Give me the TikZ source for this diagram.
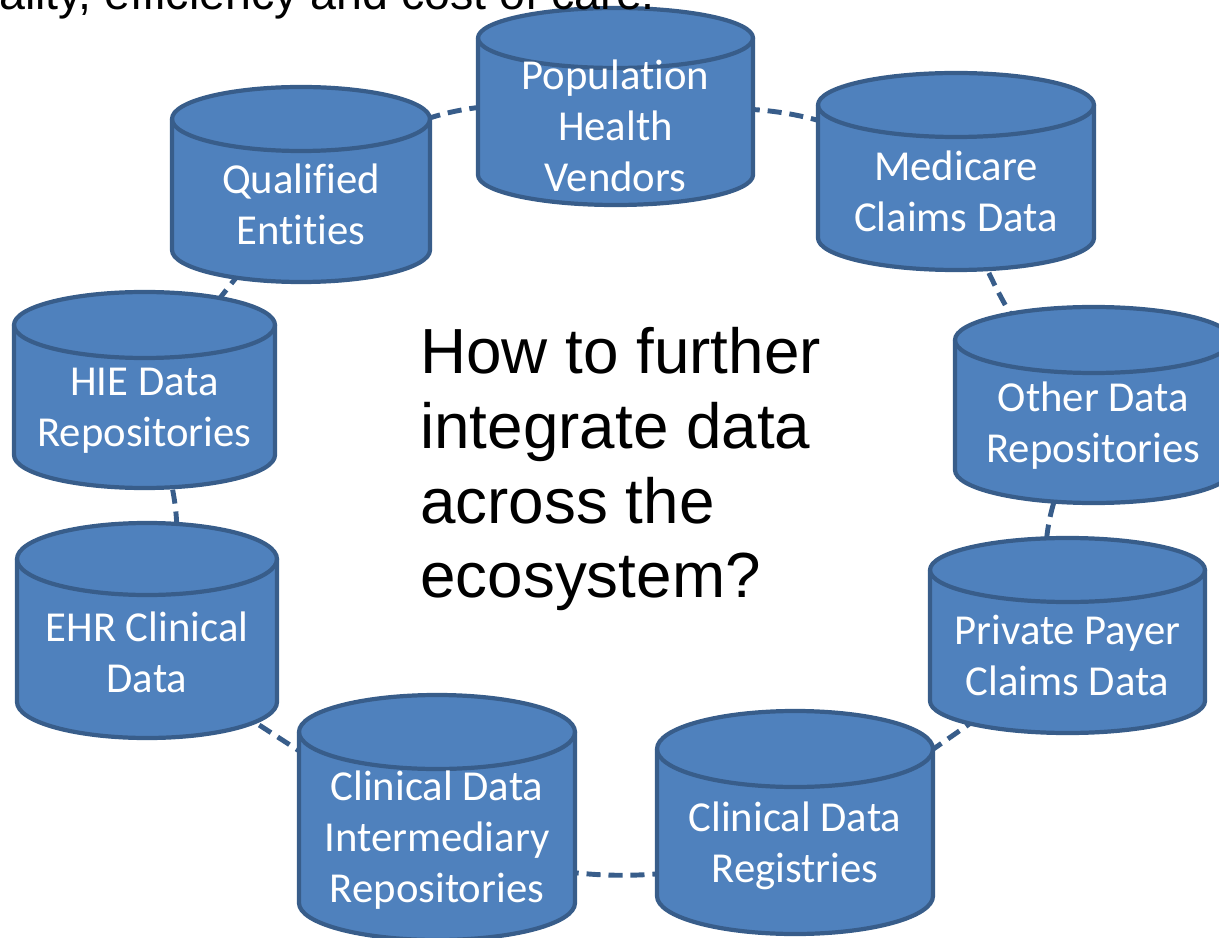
\documentclass[tikz,border=0pt]{standalone}
\usepackage{fontspec}
\usepackage{tikz}
\usetikzlibrary{backgrounds}
\newfontfamily\canfont[Ligatures = NoCommon]{Carlito}
\newfontfamily\askfont{Liberation Sans}
\definecolor{canblue}{HTML}{4F81BD}
\definecolor{canborder}{HTML}{385D8A}
\tikzset{
    can/.style = {fill = canblue, draw = canborder, line width = 2.4pt, line join = round},
    canedge/.style = {draw = canborder, line width = 2.4pt},
    cantext/.style = {text = white, align = center, inner sep = 0pt, font = \canfont\fontsize{24.3}{29}\selectfont},
    link/.style = {draw = canborder, line width = 2.8pt, dash pattern = on 8pt off 4.5pt}
}
% Cilindro: nome, centro x, semiasse x, y sopra, y sotto, semiasse y, testo
\newcommand{\datacan}[7]{
    \path[can] (#2-#3,#4) -- (#2-#3,#5) arc[start angle = 180, end angle = 360, x radius = #3, y radius = #6]
        -- (#2+#3,#4) arc[start angle = 0, end angle = 180, x radius = #3, y radius = #6] -- cycle;
    \draw[canedge] (#2-#3,#4) arc[start angle = 180, end angle = 360, x radius = #3, y radius = #6];
    \node[cantext] (#1) at (#2,{(#4-#6+#5)/2-4}) {#7};
}

\begin{document}
\begin{tikzpicture}[x = 0.02cm, y = 0.02cm]
    \useasboundingbox (0,0) rectangle (1219,937);

    % Cilindri
    \datacan{pop}{615.5}{137.5}{899}{762}{30}{Population\\Health\\Vendors}
    \datacan{med}{956}{138}{832}{699}{32}{Medicare\\Claims Data}
    \datacan{oth}{1093.5}{138.5}{597}{467}{33}{Other Data\\Repositories}
    \datacan{pri}{1067.5}{137.5}{367}{236}{32}{Private Payer\\Claims Data}
    \datacan{reg}{795}{138}{188}{41}{38}{Clinical Data\\Registries}
    \datacan{int}{437}{138}{205}{34}{37}{Clinical Data\\Intermediary\\Repositories}
    \datacan{ehr}{147}{130}{378}{235}{36}{EHR Clinical\\Data}
    \datacan{hie}{144.5}{130.5}{612}{482}{33}{HIE Data\\Repositories}
    \datacan{qe}{301}{129}{818}{687}{32}{Qualified\\Entities}

    % Collegamenti
    \begin{scope}[on background layer]
        \draw[link] (pop.center) to[bend left = 26] (med.center);
        \draw[link] (med.center) to[bend right = 11] (oth.center);
        \draw[link] (oth.center) to[bend right = 30] (pri.center);
        \draw[link] (pri.center) -- (reg.center);
        \draw[link] (reg.center) to[bend left = 18] (int.center);
        \draw[link] (int.center) -- (ehr.center);
        \draw[link] (ehr.center) to[bend right = 26] (hie.center);
        \draw[link] (hie.center) to[bend left = 6] (qe.center);
        \draw[link] (qe.center) to[bend left = 34] (pop.center);
    \end{scope}

    % Testi
    \node[anchor = west, align = left, inner sep = 0pt, font = \askfont\fontsize{36.3}{42.5}\selectfont] (ask) at (420,467.5) {How to further\\integrate data\\across the\\ecosystem?};
    \node[anchor = base west, inner sep = 0pt, font = \askfont\fontsize{26.5}{32}\selectfont] (top) at (-1,927) {ality, efficiency and cost of care.};
\end{tikzpicture}
\end{document}
